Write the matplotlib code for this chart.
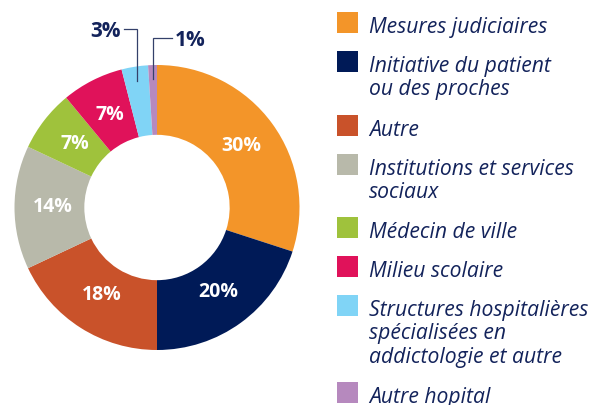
import matplotlib.pyplot as plt
import numpy as np
from matplotlib.patches import Rectangle

# data
categories = [
    "Mesures judiciaires",
    "Initiative du patient\nou des proches",
    "Autre",
    "Institutions et services\nsociaux",
    "Médecin de ville",
    "Milieu scolaire",
    "Structures hospitalières\nspécialisées en\naddictologie et autre",
    "Autre hopital",
]
values = [30, 20, 18, 14, 7, 7, 3, 1]
colors = ["#F39529", "#001A57", "#C9522A", "#B8B9AA",
          "#9FC23C", "#E0125A", "#80D4F6", "#B689BE"]

NAVY = "#13235B"
W, H = 601, 405

fig = plt.figure(figsize=(W / 100, H / 100), dpi=100)

# donut, placed in pixel units
cx, cy, R = 157, 207.5, 142.5
ax = fig.add_axes([(cx - R) / W, 1 - (cy + R) / H, 2 * R / W, 2 * R / H])
wedges, _ = ax.pie(values, colors=colors, startangle=90, counterclock=False,
                   radius=1, wedgeprops=dict(width=0.49, linewidth=0))
ax.set_xlim(-1, 1)
ax.set_ylim(-1, 1)
ax.axis("off")

# overlay in figure pixels for legend and leader lines
ov = fig.add_axes([0, 0, 1, 1])
ov.set_xlim(0, W)
ov.set_ylim(H, 0)
ov.axis("off")

bold = dict(family="Open Sans", weight="bold", fontsize=14)

# leader elbow: (label side, top y, horizontal end x)
leaders = {6: ("right", 29, 124), 7: ("left", 38, 172)}

for i, (w, v) in enumerate(zip(wedges, values)):
    mid = np.deg2rad((w.theta1 + w.theta2) / 2)
    if i in leaders:
        side, ty, ex = leaders[i]
        px = cx + 0.9 * R * np.cos(mid)
        py = cy - 0.9 * R * np.sin(mid)
        ov.plot([px, px, ex], [py, ty, ty], color="#34406A", lw=0.9,
                solid_joinstyle="miter")
        if side == "right":
            ov.text(ex - 3, ty + 2.5, f"{v}%", ha="right", va="center",
                    color=NAVY, family="Open Sans", weight="bold", fontsize=15)
        else:
            ov.text(ex + 3, ty + 2.5, f"{v}%", ha="left", va="center",
                    color=NAVY, family="Open Sans", weight="bold", fontsize=15)
    else:
        ax.text(0.73 * np.cos(mid), 0.73 * np.sin(mid), f"{v}%",
                ha="center", va="center", color="white", **bold)

# legend
sq_top = [12, 51, 115, 154, 217, 256, 295, 382]
pitch = 23.5
for lab, col, top in zip(categories, colors, sq_top):
    ov.add_patch(Rectangle((337, top), 21, 21, color=col, lw=0))
    for k, line in enumerate(lab.split("\n")):
        ov.text(369, top + 21 + k * pitch, line, ha="left", va="baseline",
                family="Open Sans", style="italic", fontsize=15.2,
                color=NAVY)

fig.savefig("out.png", dpi=100)
